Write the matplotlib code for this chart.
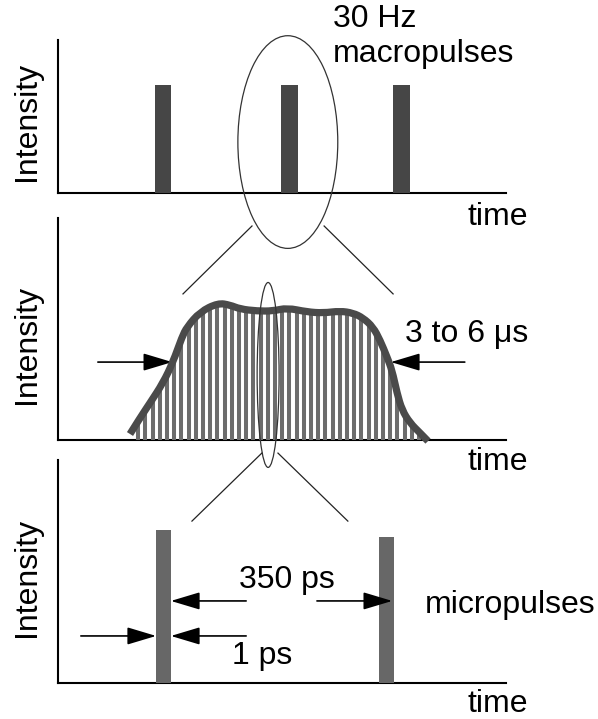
import numpy as np
import matplotlib
matplotlib.use("Agg")
import matplotlib.pyplot as plt
from matplotlib.patches import Ellipse, PathPatch
from matplotlib.path import Path

plt.rcParams['font.family'] = ['Liberation Sans', 'DejaVu Sans']

# ---------------- data ----------------
# panel 1: macropulses (time in arbitrary units 0-100, intensity 0-1)
macro_t = [23.4, 51.7, 76.7]
macro_I = [0.706, 0.706, 0.706]
macro_w = 3.7

# panel 2: envelope of a macropulse
pulse_t = [16.07, 18.30, 20.54, 23.44, 25.67, 27.68, 28.79, 31.70, 35.71, 38.39,
           40.63, 44.42, 47.99, 51.12, 55.58, 59.15, 62.95, 65.85, 68.08, 70.31,
           71.88, 73.44, 74.55, 75.67, 76.79, 78.57, 80.80, 82.59]
pulse_I = [0.027, 0.099, 0.167, 0.257, 0.351, 0.464, 0.509, 0.577, 0.617, 0.608,
           0.590, 0.581, 0.581, 0.595, 0.577, 0.572, 0.581, 0.572, 0.550, 0.509,
           0.450, 0.374, 0.315, 0.212, 0.135, 0.077, 0.032, -0.005]
micro_start = 17.9
micro_period = 1.607
micro_end = 82.6

# panel 3: two micropulses
micro_t = [23.5, 73.3]
micro_I = [0.686, 0.655]
micro_w = 3.35

labels = dict(ylabel="Intensity", xlabel="time")

# ---------------- layout helpers ----------------
W, H = 598, 719
fig = plt.figure(figsize=(W / 100, H / 100), dpi=100)


def rect(l, t, r, b):
    return [l / W, 1 - b / H, (r - l) / W, (b - t) / H]


def style(ax):
    ax.set_xlim(0, 100)
    ax.set_ylim(0, 1)
    ax.set_facecolor('none')
    for s in ['top', 'right']:
        ax.spines[s].set_visible(False)
    for s in ['left', 'bottom']:
        ax.spines[s].set_linewidth(1.5)
        ax.spines[s].set_color('black')
    ax.set_xticks([])
    ax.set_yticks([])


def arrow(ax, tail, tip):
    ax.annotate('', xy=tip, xytext=tail, xycoords='data', textcoords='data',
                annotation_clip=False,
                arrowprops=dict(arrowstyle='-|>,head_length=0.9,head_width=0.27',
                                mutation_scale=20, lw=1.2, color='black',
                                shrinkA=0, shrinkB=0))


def smooth_path(xs, ys, close_to=None):
    """Quadratic-Bezier path that uses the read points as control points."""
    pts = list(zip(xs, ys))
    verts = [pts[0]]
    codes = [Path.MOVETO]
    for i in range(1, len(pts) - 1):
        mid = ((pts[i][0] + pts[i + 1][0]) / 2, (pts[i][1] + pts[i + 1][1]) / 2)
        verts += [pts[i], mid]
        codes += [Path.CURVE3, Path.CURVE3]
    verts.append(pts[-1])
    codes.append(Path.LINETO)
    if close_to is not None:
        verts += [(pts[-1][0], close_to), (pts[0][0], close_to), pts[0]]
        codes += [Path.LINETO, Path.LINETO, Path.CLOSEPOLY]
    return Path(verts, codes)


FS = 23

ax1 = fig.add_axes(rect(58, 40, 506, 193))
ax2 = fig.add_axes(rect(58, 218, 506, 440))
ax3 = fig.add_axes(rect(58, 460, 506, 683))
for ax in (ax1, ax2, ax3):
    style(ax)

# ---------------- panel 1 ----------------
ax1.bar(macro_t, macro_I, width=macro_w, color='#464646', zorder=3)
ax1.add_patch(Ellipse((51.3, 0.333), 22.3, 1.39, fill=False, edgecolor='#333333',
                      lw=0.9, clip_on=False, zorder=4))

# ---------------- panel 2 ----------------
ax2.plot([43.3, 27.9], [0.964, 0.658], color='#222222', lw=0.9, clip_on=False)
ax2.plot([59.4, 74.8], [0.964, 0.658], color='#222222', lw=0.9, clip_on=False)

clip_patch = PathPatch(smooth_path(pulse_t, pulse_I, close_to=-0.012),
                       transform=ax2.transData, fill=False, edgecolor='none')
ax2.add_patch(clip_patch)
stripe_t = np.arange(micro_start, micro_end, micro_period)
stripes = ax2.vlines(stripe_t, -0.012, 1.0, colors='#6c6c6c', lw=2.9, zorder=3)
stripes.set_clip_path(clip_patch)

ax2.add_patch(PathPatch(smooth_path(pulse_t, pulse_I), fill=False,
                        edgecolor='#4a4a4a', lw=5.2, joinstyle='round',
                        capstyle='butt', zorder=4, clip_on=False))

arrow(ax2, (8.9, 0.351), (25.5, 0.351))
arrow(ax2, (90.8, 0.351), (74.3, 0.351))

ax2.add_patch(Ellipse((46.9, 0.293), 4.9, 0.833, fill=False, edgecolor='#333333',
                      lw=0.9, clip_on=False, zorder=5))

# ---------------- panel 3 ----------------
ax3.plot([45.5, 29.9], [1.031, 0.726], color='#222222', lw=0.9, clip_on=False)
ax3.plot([49.1, 64.7], [1.031, 0.726], color='#222222', lw=0.9, clip_on=False)
ax3.bar(micro_t, micro_I, width=micro_w, color='#676767', zorder=3)

arrow(ax3, (42.0, 0.368), (25.2, 0.368))
arrow(ax3, (57.8, 0.368), (74.6, 0.368))
arrow(ax3, (5.1, 0.211), (21.9, 0.211))
arrow(ax3, (42.0, 0.211), (25.2, 0.211))

# ---------------- texts ----------------
def ftext(x, y, s, **kw):
    fig.text(x / W, 1 - y / H, s, fontsize=FS, **kw)


for yc in (121, 344, 577):
    ftext(27, yc, labels['ylabel'], rotation=90, ha='center', va='center')
for yb in (225, 470, 712):
    ftext(467, yb, labels['xlabel'], ha='left', va='baseline')

ftext(333, 27, "30 Hz", ha='left', va='baseline')
ftext(333, 62, "macropulses", ha='left', va='baseline')
ftext(405, 342, "3 to 6 \u03bcs", ha='left', va='baseline')
ftext(239, 588, "350 ps", ha='left', va='baseline')
ftext(232, 664, "1 ps", ha='left', va='baseline')
ftext(425, 613, "micropulses", ha='left', va='baseline')

fig.savefig("out.png", dpi=100)
